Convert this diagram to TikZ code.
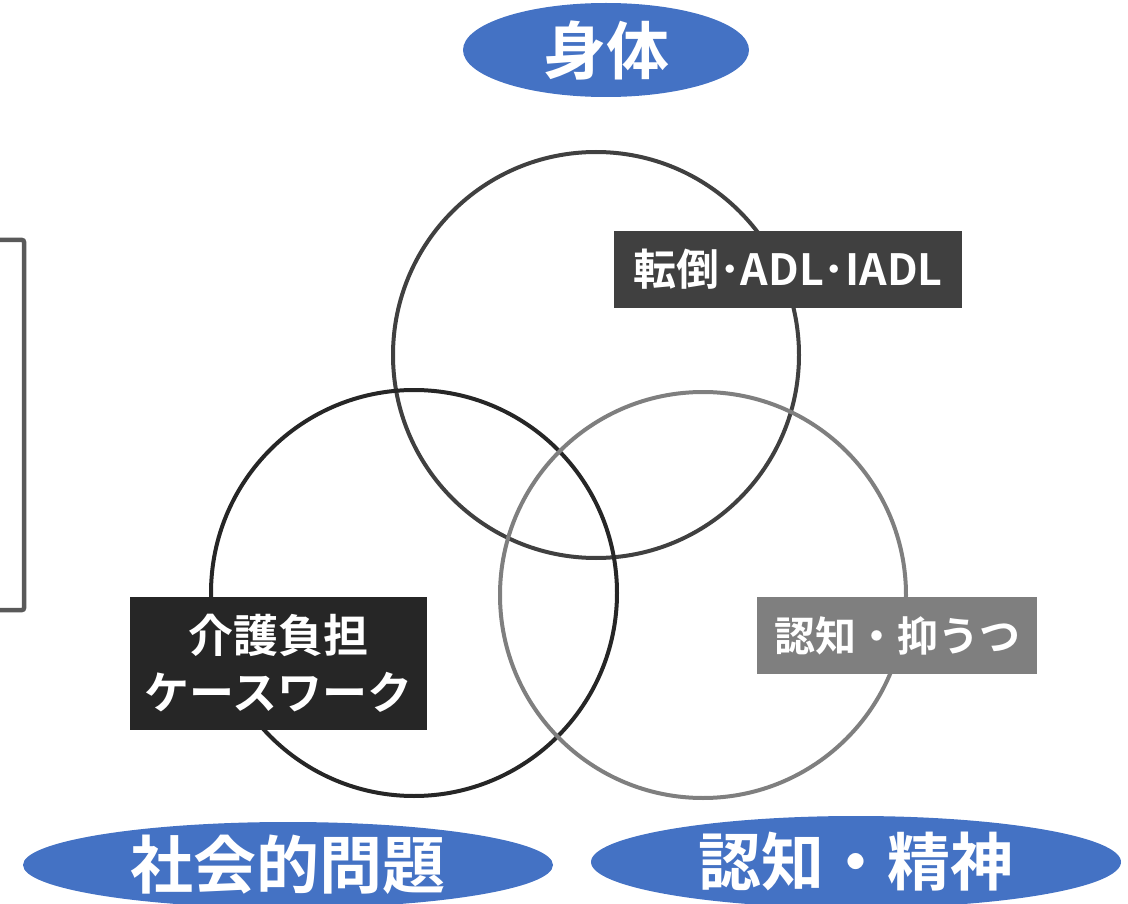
\documentclass[tikz,border=0pt]{standalone}
\usepackage{fontspec}
\usetikzlibrary{shapes.geometric}
\newfontfamily\cjk{Noto Sans CJK JP}[BoldFont={Noto Sans CJK JP Bold}]
\definecolor{ovalblue}{HTML}{4472C4}
\definecolor{gdark}{HTML}{404040}
\definecolor{gblack}{HTML}{262626}
\definecolor{gmid}{HTML}{7F7F7F}
\definecolor{gframe}{HTML}{595959}
\tikzset{
  ring/.style={circle, draw, line width=4pt, minimum size=406pt, inner sep=0pt},
  oval/.style={ellipse, fill=ovalblue, inner sep=0pt, text=white, font=\cjk\bfseries\fontsize{63}{70}\selectfont},
  tag/.style={rectangle, inner sep=0pt, text=white, align=center},
}
\begin{document}
\begin{tikzpicture}[x=1pt,y=-1pt]
\useasboundingbox (0,0) rectangle (1128,904);
% partial frame at left edge
\draw[gframe, line width=4.5pt, rounded corners=2pt] (-20,240) -- (24,240) -- (24,610) -- (-20,610);
% circles
\node[ring, draw=gdark] (top) at (596,355) {};
\node[ring, draw=gblack] (left) at (414,593) {};
\node[ring, draw=gmid] (right) at (703,595) {};
% tags
\node[tag, fill=gdark, minimum width=348pt, minimum height=77pt, font=\cjk\bfseries\fontsize{43}{48}\selectfont] (t1) at (788,269.5) {転倒･ADL･IADL};
\node[tag, fill=gblack, minimum width=297pt, minimum height=133pt, font=\cjk\bfseries\fontsize{45}{57}\selectfont] (t2) at (278.5,663.5) {介護負担\\ケースワーク};
\node[tag, fill=gmid, minimum width=280pt, minimum height=77pt, font=\cjk\bfseries\fontsize{41}{48}\selectfont] (t3) at (897,635.5) {認知・抑うつ};
% ovals
\node[oval, minimum width=286pt, minimum height=94pt] (o1) at (606,50) {身体};
\node[oval, minimum width=530pt, minimum height=86pt] (o2) at (288,865) {社会的問題};
\node[oval, minimum width=530pt, minimum height=92pt] (o3) at (856,862) {認知・精神};
\end{tikzpicture}
\end{document}
